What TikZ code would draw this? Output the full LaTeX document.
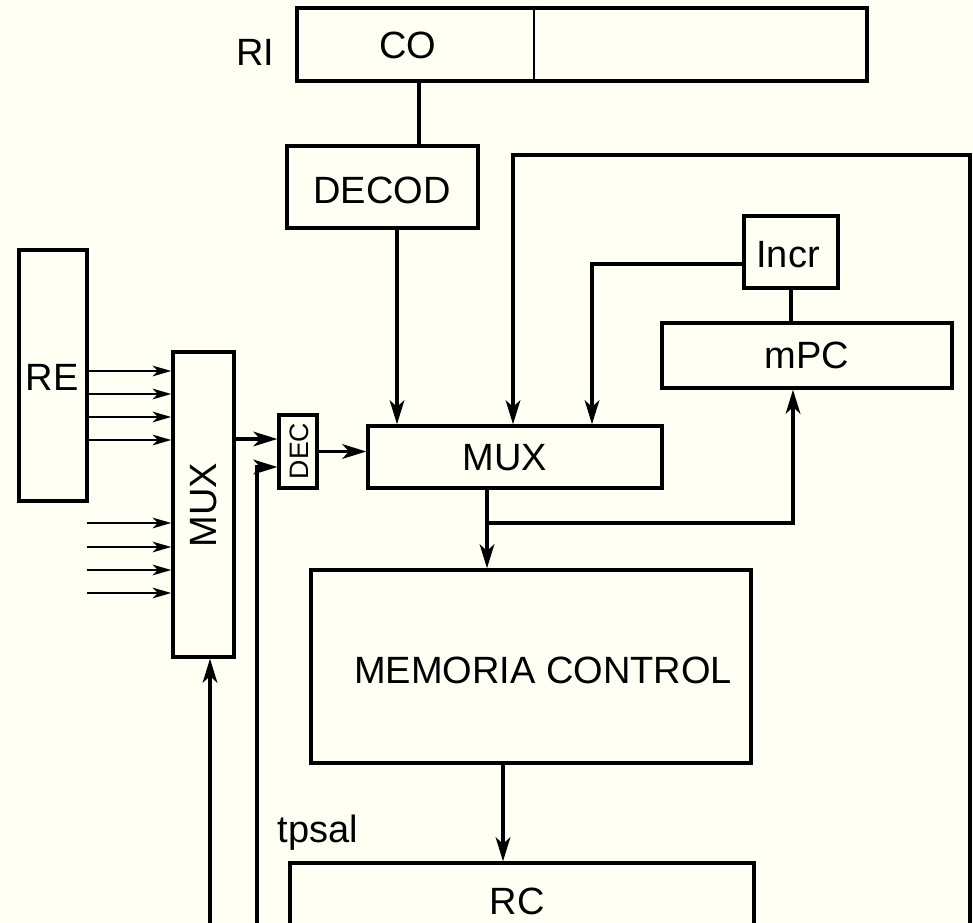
\documentclass[tikz,border=0pt]{standalone}
\usepackage{fontspec}
\setmainfont{Liberation Sans}
\usetikzlibrary{arrows.meta,fit}
\definecolor{bg}{HTML}{FFFFF4}
\begin{document}
\begin{tikzpicture}[x=0.75pt,y=-0.75pt,
  box/.style={draw, line width=2.6pt, inner sep=0pt},
  lbl/.style={inner sep=0pt, font=\fontsize{28.5}{30}\selectfont},
  conn/.style={line width=2.5pt},
  arr/.style={conn, -{Stealth[length=18pt,width=11pt,inset=5pt]}},
  sarr/.style={line width=1.8pt, -{Stealth[length=14pt,width=8pt,inset=4pt]}}]
\fill[bg] (0,0) rectangle (973,923);
\useasboundingbox (0,0) rectangle (973,923);
\clip (0,0) rectangle (973,923);

% guide coordinates
\coordinate (g419) at (419,0);
\coordinate (g397) at (397,0);
\coordinate (g503) at (503,0);
\coordinate (mo) at (487,0);
\coordinate (br) at (793,523);
\coordinate (ci) at (592,264);
\coordinate (looptop) at (513,155);
\coordinate (loopbot) at (970,935);
\coordinate (b210) at (210,935);
\coordinate (b257) at (257,935);
\coordinate (c257) at (257,467);
\coordinate (g439) at (0,439);

% RI register
\node[box, fit={(297,8)(867,81)}] (ri) {};
\draw[line width=2.2pt] (534,8) -- (534,81);
\node[lbl] (co) at (408,45) {CO};
\node[lbl] (rilbl) at (255,52) {RI};

% DECOD
\node[box, fit={(287,146)(478,228)}] (decod) {};
\node[lbl] (decodlbl) at (382,190) {DECOD};

% middle MUX
\node[box, fit={(368,426)(662,488)}] (mux) {};
\node[lbl] (muxlbl) at (505,458) {MUX};

% Incr and mPC
\node[box, fit={(744,216)(838,288)}] (incr) {};
\node[lbl] (incrlbl) at (788,255) {Incr};
\node[box, fit={(662,323)(952,388)}] (mpc) {};
\node[lbl] (mpclbl) at (807,355) {mPC};

% Memoria control
\node[box, fit={(311,570)(751,763)}] (mem) {};
\node[lbl] (memlbl) at (543,670) {MEMORIA CONTROL};

% RC
\node[box, fit={(290,863)(754,980)}] (rc) {};
\node[lbl] (rclbl) at (517,901) {RC};
\node[lbl] (tpsal) at (318,833) {tpsal};

% left side
\node[box, fit={(19,250)(87,501)}] (re) {};
\node[lbl] (relbl) at (52,377) {RE};
\node[box, fit={(173,352)(234,657)}] (lmux) {};
\node[lbl, rotate=90] (lmuxlbl) at (204,505) {MUX};
\node[box, line width=2.4pt, fit={(279,415)(317,488)}] (dec) {};
\node[inner sep=0pt, rotate=90, font=\fontsize{20}{21}\selectfont] (declbl) at (299,451) {DEC};

% connectors
\draw[conn] (ri.south -| g419) -- (decod.north -| g419);
\draw[arr] (decod.south -| g397) -- (mux.north -| g397);
\draw[arr] (loopbot) |- (looptop) -- (mux.north -| looptop);
\draw[arr] (incr.west |- ci) -- (ci) -- (mux.north -| ci);
\draw[conn] (incr.south) -- (mpc.north -| incr.south);
\draw[arr] (mux.south -| mo) -- (mem.north -| mo);
\draw[arr] (mux.south -| mo) |- (br) -- (mpc.south -| br);
\draw[arr] (mem.south -| g503) -- (rc.north -| g503);

\foreach \y in {371,394,417,440} {
  \coordinate (t) at (0,\y);
  \draw[sarr] (re.east |- t) -- (lmux.west |- t);
}
\foreach \y in {523,547,570,593} {
  \coordinate (s) at (87,\y);
  \draw[sarr] (s) -- (lmux.west |- s);
}
\draw[arr] (lmux.east |- g439) -- (dec.west |- g439);
\draw[arr] (b257) -- (c257) -- (dec.west |- c257);
\draw[arr] (b210) -- (lmux.south -| b210);
\draw[arr] (dec.east) -- (mux.west |- dec.east);
\end{tikzpicture}
\end{document}
